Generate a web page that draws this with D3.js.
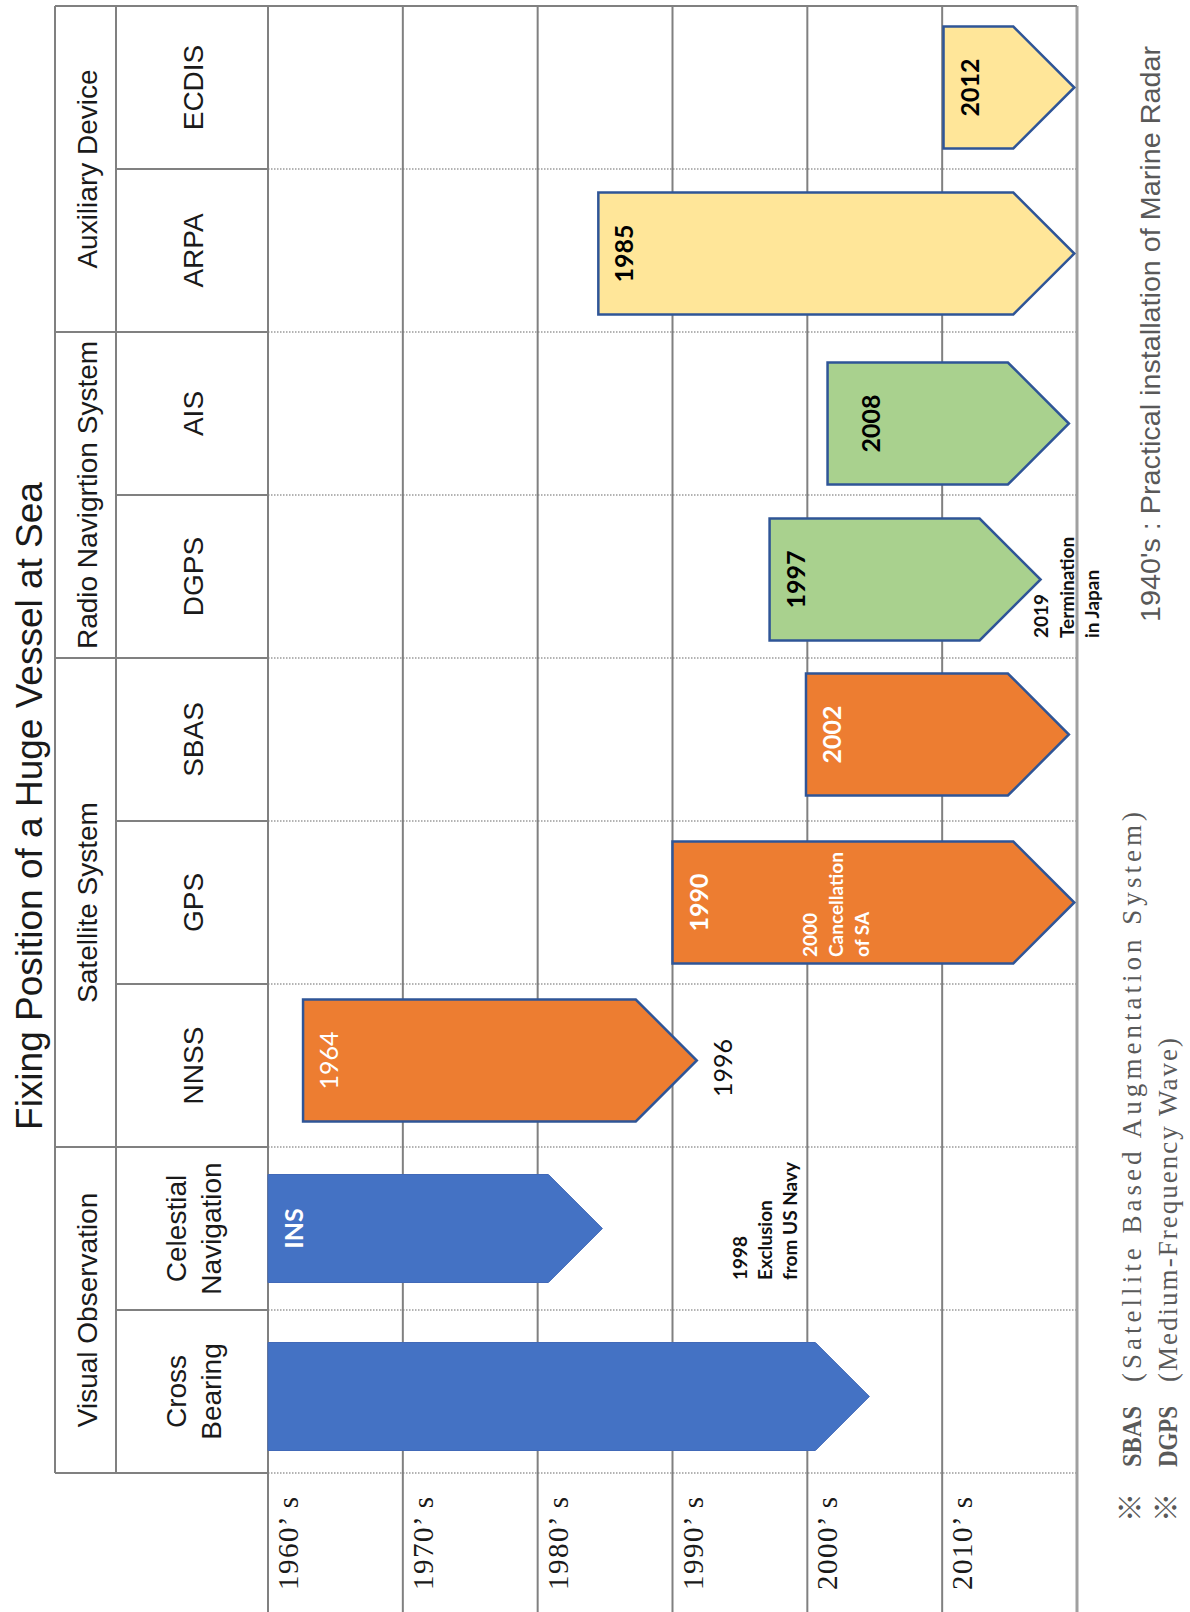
<!DOCTYPE html>
<html><head><meta charset="utf-8">
<script src="https://cdn.jsdelivr.net/npm/d3@7"></script>
<style>body{margin:0;background:#fff}svg{display:block}</style>
</head><body>
<svg id="chart" width="1190" height="1612"></svg>
<script>
// ---------------- DATA ----------------
const title = "Fixing Position of a Huge Vessel at Sea";
const groups = ["Visual Observation", "Satellite System", "Radio Navigrtion System", "Auxiliary Device"];
const categories = ["Cross Bearing", "Celestial Navigation", "NNSS", "GPS", "SBAS", "DGPS", "AIS", "ARPA", "ECDIS"];
const categoryGroup = ["Visual Observation", "Visual Observation", "Satellite System", "Satellite System", "Satellite System",
  "Radio Navigrtion System", "Radio Navigrtion System", "Auxiliary Device", "Auxiliary Device"];
const categoryLabels = [["Cross", "Bearing"], ["Celestial", "Navigation"], ["NNSS"], ["GPS"], ["SBAS"], ["DGPS"], ["AIS"], ["ARPA"], ["ECDIS"]];
const decades = [1960, 1970, 1980, 1990, 2000, 2010];
const decadeLabels = ["1960’ s", "1970’ s", "1980’ s", "1990’ s", "2000’ s", "2010’ s"];
// arrow start / tip (years)
const barStart = [1960, 1960, 1962.6, 1990.0, 1999.9, 1997.2, 2001.5, 1984.5, 2010.1];
const barEnd   = [2004.6, 1984.8, 1991.8, 2019.8, 2019.4, 2017.3, 2019.4, 2019.8, 2019.8];
const barLabels = ["", "INS", "1964", "1990", "2002", "1997", "2008", "1985", "2012"];
const annotations = [
  { category: "NNSS", lines: ["1996"] },
  { category: "Celestial Navigation", lines: ["1998", "Exclusion", "from US Navy"] },
  { category: "GPS", lines: ["2000", "Cancellation", "of SA"] },
  { category: "DGPS", lines: ["2019", "Termination", "in Japan"] }
];
const radarNote = "1940's : Practical installation of Marine Radar";
const noteAbbr = ["SBAS", "DGPS"];
const noteText = ["(Satellite Based Augmentation System)", "(Medium-Frequency Wave)"];

// ---------------- STYLE ----------------
const groupFill = {
  "Visual Observation": "#4472C4", "Satellite System": "#ED7D31",
  "Radio Navigrtion System": "#A9D18E", "Auxiliary Device": "#FFE699"
};
const groupStroke = {
  "Visual Observation": "#4169B8", "Satellite System": "#2F5597",
  "Radio Navigrtion System": "#2F5597", "Auxiliary Device": "#2F5597"
};
const groupLabelColor = {
  "Visual Observation": "#ffffff", "Satellite System": "#ffffff",
  "Radio Navigrtion System": "#000000", "Auxiliary Device": "#000000"
};
// small placement nudges of arrows within their rows (px, along the row axis)
const rowNudge = { "Cross Bearing": -5, "NNSS": 5, "SBAS": 5, "DGPS": -3, "AIS": -10, "ARPA": -3 };
const sans = "'Liberation Sans', Arial, sans-serif";
const serif = "'Liberation Serif', 'Times New Roman', serif";
const lato = "Lato, 'Open Sans', sans-serif";
const grid = "#808080";

// ---------------- LAYOUT ----------------
const W = 1190, H = 1612;
const svg = d3.select("#chart");
svg.append("rect").attr("width", W).attr("height", H).attr("fill", "#fff");
// the chart is drawn in a landscape frame and rotated -90°
const g = svg.append("g").attr("transform", `translate(0,${H}) rotate(-90)`);

const u = d3.scaleBand().domain(categories).range([139, 1606]);
const v = d3.scaleLinear().domain([1960, 2020]).range([268, 1077]);
const bw = u.bandwidth();
const headL = 55, headM = 116, headR = v(1960), tableTop = 1606, tableBottomU = u.range()[0];
const uc = c => u(c) + bw / 2 + (rowNudge[c] || 0);

// group extents
const groupExt = groups.map(gr => {
  const cs = categories.filter((c, i) => categoryGroup[i] === gr);
  return { name: gr, u0: d3.min(cs, c => u(c)), u1: d3.max(cs, c => u(c) + bw) };
});

// dotted row lines in data area
g.append("g").selectAll("line").data(categories).join("line")
  .attr("x1", c => u(c)).attr("x2", c => u(c))
  .attr("y1", v(1960)).attr("y2", v(2020))
  .attr("stroke", "#9a9a9a").attr("stroke-width", 1.5).attr("stroke-dasharray", "1.5,1.5");

// decade lines
const decadeBounds = decades.concat([2020]);
g.append("g").selectAll("line").data(decadeBounds).join("line")
  .attr("x1", 0).attr("x2", tableTop)
  .attr("y1", d => v(d)).attr("y2", d => v(d))
  .attr("stroke", d => d === 2020 ? "#a0a0a0" : grid)
  .attr("stroke-width", d => d === 2020 ? 3 : 2);

// header lines
const hdr = g.append("g").attr("stroke", grid).attr("stroke-width", 2);
hdr.append("line").attr("x1", tableTop).attr("x2", tableTop).attr("y1", headL).attr("y2", v(2020));
hdr.append("line").attr("x1", tableBottomU).attr("x2", tableTop).attr("y1", headL).attr("y2", headL);
hdr.append("line").attr("x1", tableBottomU).attr("x2", tableTop).attr("y1", headM).attr("y2", headM);
hdr.append("line").attr("x1", tableBottomU).attr("x2", tableBottomU).attr("y1", headL).attr("y2", headR);
groupExt.slice(1).forEach(ge => {
  hdr.append("line").attr("x1", ge.u0).attr("x2", ge.u0).attr("y1", headL).attr("y2", headR);
});
categories.forEach((c, i) => {
  if (i === 0) return;
  if (categoryGroup[i] !== categoryGroup[i - 1]) return;
  hdr.append("line").attr("x1", u(c)).attr("x2", u(c)).attr("y1", headM).attr("y2", headR);
});

// ---------------- BARS (arrows) ----------------
const bars = categories.map((c, i) => ({
  cat: c, grp: categoryGroup[i], s: barStart[i], e: barEnd[i], label: barLabels[i]
}));
function arrowPath(d) {
  const th = d.grp === "Visual Observation" ? 108 : 122;
  const c = uc(d.cat);
  const u0 = c - th / 2, u1 = c + th / 2;
  const v0 = v(d.s), v1 = v(d.e), vs = v1 - th / 2;
  return `M${u0},${v0}L${u1},${v0}L${u1},${vs}L${c},${v1}L${u0},${vs}Z`;
}
g.append("g").selectAll("path").data(bars).join("path")
  .attr("d", arrowPath)
  .attr("fill", d => groupFill[d.grp])
  .attr("stroke", d => groupStroke[d.grp])
  .attr("stroke-width", d => d.grp === "Visual Observation" ? 1 : 2.5)
  .attr("stroke-linejoin", "miter");

g.append("g").selectAll("text").data(bars.filter(d => d.label)).join("text")
  .attr("x", d => uc(d.cat))
  .attr("y", d => v(d.s) + (d.cat === "AIS" ? 52 : 35))
  .attr("text-anchor", "middle")
  .attr("font-family", lato)
  .attr("font-size", 25)
  .attr("font-weight", d => d.cat === "NNSS" ? 400 : 700)
  .attr("fill", d => groupLabelColor[d.grp])
  .text(d => d.label);

// ---------------- ANNOTATIONS ----------------
const annLayout = {
  "NNSS": { du: 50, v0: 732, size: 25, weight: 400, color: "#111", lh: 0 },
  "Celestial Navigation": { du: 30, v0: 747, size: 19, weight: 700, color: "#111", lh: 25 },
  "GPS": { du: 27, v0: 817, size: 19, weight: 700, color: "#ffffff", lh: 26 },
  "DGPS": { du: 20, v0: 1048, size: 19, weight: 700, color: "#111", lh: 25.5 }
};
annotations.forEach(a => {
  const L = annLayout[a.category];
  const t = g.append("text")
    .attr("font-family", lato).attr("font-size", L.size)
    .attr("font-weight", L.weight).attr("fill", L.color);
  a.lines.forEach((ln, k) => {
    t.append("tspan").attr("x", u(a.category) + L.du).attr("y", L.v0 + k * L.lh).text(ln);
  });
});

// ---------------- HEADER TEXT ----------------
g.append("g").selectAll("text").data(groupExt).join("text")
  .attr("x", d => (d.u0 + d.u1) / 2).attr("y", 97)
  .attr("text-anchor", "middle")
  .attr("font-family", sans).attr("font-size", 28).attr("fill", "#1a1a1a")
  .text(d => d.name);

categories.forEach((c, i) => {
  const lines = categoryLabels[i];
  const center = 193, lh = 35;
  const t = g.append("text").attr("text-anchor", "middle")
    .attr("font-family", sans).attr("font-size", 28).attr("fill", "#1a1a1a");
  lines.forEach((ln, k) => {
    t.append("tspan")
      .attr("x", u(c) + bw / 2)
      .attr("y", center + 10 + (k - (lines.length - 1) / 2) * lh)
      .text(ln);
  });
});

// decade labels
g.append("g").selectAll("text").data(decades).join("text")
  .attr("x", 22).attr("y", d => v(d) + 30)
  .attr("font-family", serif).attr("font-size", 29).attr("fill", "#1a1a1a")
  .attr("textLength", 93).attr("lengthAdjust", "spacing")
  .text((d, i) => decadeLabels[i]);

// title
g.append("text")
  .attr("x", 806).attr("y", 42).attr("text-anchor", "middle")
  .attr("font-family", sans).attr("font-size", 37).attr("fill", "#1a1a1a")
  .text(title);

// ---------------- NOTES ----------------
g.append("text")
  .attr("x", 990).attr("y", 1160)
  .attr("font-family", sans).attr("font-size", 28).attr("fill", "#595959")
  .attr("textLength", 576).attr("lengthAdjust", "spacingAndGlyphs")
  .text(radarNote);

noteAbbr.forEach((ab, i) => {
  const base = 1141 + i * 36;
  g.append("text").attr("x", 90).attr("y", base)
    .attr("font-family", "'Noto Sans CJK JP', sans-serif").attr("font-size", 29).attr("fill", "#595959")
    .text("※");
  g.append("text").attr("x", 145).attr("y", base)
    .attr("font-family", serif).attr("font-size", 27).attr("font-weight", 700).attr("fill", "#595959")
    .attr("textLength", 61).attr("lengthAdjust", "spacingAndGlyphs")
    .text(ab);
  g.append("text").attr("x", 230).attr("y", base)
    .attr("font-family", serif).attr("font-size", 27).attr("fill", "#595959")
    .attr("textLength", i === 0 ? 570 : 344).attr("lengthAdjust", "spacing")
    .text(noteText[i]);
});
</script>
</body></html>
